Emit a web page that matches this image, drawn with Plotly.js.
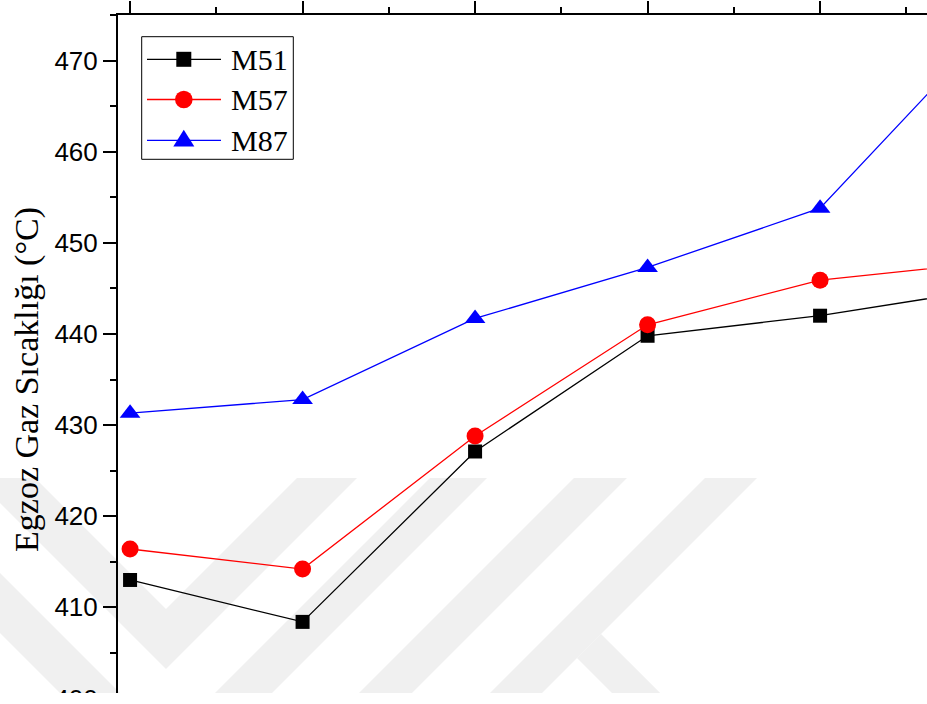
<!DOCTYPE html>
<html>
<head>
<meta charset="utf-8">
<script src="https://cdn.plot.ly/plotly-3.0.1.min.js"></script>
<style>
  html, body { margin: 0; padding: 0; background: #ffffff; overflow: hidden; }
  #frame { position: absolute; left: 0; top: 0; width: 927px; height: 693px; overflow: hidden; background: #ffffff; }
  #chart { position: absolute; left: 0; top: 0; }
</style>
</head>
<body>
<div id="frame"><div id="chart"></div></div>
<script>
// ---- data ----
const xValues = [1, 2, 3, 4, 5, 6];
const seriesNames = ["M51", "M57", "M87"];
const m51 = [413.0, 408.4, 427.1, 439.8, 442.0, 445.0];
const m57 = [416.4, 414.2, 428.8, 441.0, 445.9, 447.9];
const m87 = [431.3, 432.8, 441.7, 447.3, 453.8, 473.9];
const yTickVals = [400, 410, 420, 430, 440, 450, 460, 470];
const yTitle = "Egzoz Gaz Sıcaklığı (°C)";
const seriesColors = ["#000000", "#ff0000", "#0000ff"];

// ---- geometry ----
const W = 1030, H = 787;
const M = { l: 118, r: 25, t: 15, b: 43 };
const plotW = W - M.l - M.r, plotH = H - M.t - M.b;
const px = v => (v - M.l) / plotW;          // pixel x -> paper
const py = v => 1 - (v - M.t) / plotH;      // pixel y -> paper

function polyPath(pts) {
  return pts.map((p, i) => (i ? "L" : "M") + px(p[0]).toFixed(5) + "," + py(p[1]).toFixed(5)).join(" ") + " Z";
}

// faint background watermark (decoration)
const wmPolys = [
  [[-25,478],[35,478],[166,609],[297,478],[357,478],[166,669]],
  [[-155,478],[-95,478],[167.5,740.5],[430,478],[487,478],[166,799]],
  [[-285,478],[-225,478],[174.5,877.5],[574,478],[627,478],[171,934]],
  [[705,478],[757,478],[335,900],[283,900]],
  [[601,634],[868,900],[819,900],[577,658]]
];
const shapes = wmPolys.map(p => ({
  type: "path", xref: "paper", yref: "paper", layer: "below",
  path: polyPath(p), fillcolor: "#f0f0f0", line: { width: 0 }
}));

// legend box drawn like the reference (Origin style)
const serif = "'Times New Roman', 'Liberation Serif', serif";
const sans = "Arial, 'Liberation Sans', sans-serif";
const leg = { x0: 141.7, y0: 36.7, x1: 293.3, y1: 159.3, lineX0: 147, lineX1: 221, mx: 183.8, textX: 228.5, rows: [59.3, 99.5, 140.3] };
shapes.push({ type: "rect", xref: "paper", yref: "paper", layer: "above",
  x0: px(leg.x0), x1: px(leg.x1), y0: py(leg.y0), y1: py(leg.y1),
  fillcolor: "#ffffff", line: { color: "#000000", width: 1 } });
const annotations = [];
seriesNames.forEach((name, i) => {
  const ry = leg.rows[i];
  shapes.push({ type: "line", xref: "paper", yref: "paper", layer: "above",
    x0: px(leg.lineX0), x1: px(leg.lineX1), y0: py(ry), y1: py(ry),
    line: { color: seriesColors[i], width: 1.3 } });
  if (i === 0) {
    shapes.push({ type: "rect", xref: "paper", yref: "paper", layer: "above",
      x0: px(leg.mx - 7.5), x1: px(leg.mx + 7.5), y0: py(ry - 7.5), y1: py(ry + 7.5),
      fillcolor: seriesColors[i], line: { width: 0 } });
  } else if (i === 1) {
    shapes.push({ type: "circle", xref: "paper", yref: "paper", layer: "above",
      x0: px(leg.mx - 8.8), x1: px(leg.mx + 8.8), y0: py(ry - 8.8), y1: py(ry + 8.8),
      fillcolor: seriesColors[i], line: { width: 0 } });
  } else {
    shapes.push({ type: "path", xref: "paper", yref: "paper", layer: "above",
      path: polyPath([[leg.mx, ry - 10.5], [leg.mx + 10.5, ry + 6.3], [leg.mx - 10.5, ry + 6.3]]),
      fillcolor: seriesColors[i], line: { width: 0 } });
  }
  annotations.push({ xref: "paper", yref: "paper", x: px(leg.textX), y: py(ry),
    xanchor: "left", yanchor: "middle", showarrow: false, text: name,
    font: { family: serif, size: 30, color: "#000" } });
});

const symbols = ["square", "circle", "triangle-up"];
const sizes = [14, 17, 18];
const values = [m51, m57, m87];
const traces = values.map((vals, i) => ({
  x: xValues, y: vals, name: seriesNames[i], type: "scatter", mode: "lines+markers",
  line: { color: seriesColors[i], width: 1.3 },
  marker: { symbol: symbols[i], size: sizes[i], color: seriesColors[i], line: { width: 0 } }
}));

const layout = {
  width: W, height: H,
  margin: M,
  paper_bgcolor: "rgba(0,0,0,0)",
  plot_bgcolor: "rgba(0,0,0,0)",
  showlegend: false,
  shapes: shapes,
  annotations: annotations,
  xaxis: {
    side: "top",
    range: [0.93, 0.93 + plotW / 172.5],
    tickmode: "linear", tick0: 1, dtick: 1,
    ticks: "outside", ticklen: 12, tickwidth: 2, tickcolor: "#000",
    minor: { ticks: "outside", dtick: 0.5, tick0: 1, ticklen: 6, tickwidth: 2, tickcolor: "#000" },
    showticklabels: false,
    showline: true, linewidth: 2, linecolor: "#000",
    showgrid: false, zeroline: false
  },
  yaxis: {
    range: [395, 475],
    tickmode: "array", tickvals: yTickVals,
    ticks: "outside", ticklen: 13, tickwidth: 2, tickcolor: "#000",
    minor: { ticks: "outside", dtick: 5, tick0: 400, ticklen: 6, tickwidth: 2, tickcolor: "#000" },
    tickfont: { family: sans, size: 26, color: "#000" },
    showline: true, linewidth: 2, linecolor: "#000",
    showgrid: false, zeroline: false,
    title: { text: yTitle, font: { family: serif, size: 34, color: "#000" }, standoff: 6 }
  }
};

Plotly.newPlot("chart", traces, layout, { displayModeBar: false, staticPlot: true });
</script>
</body>
</html>
